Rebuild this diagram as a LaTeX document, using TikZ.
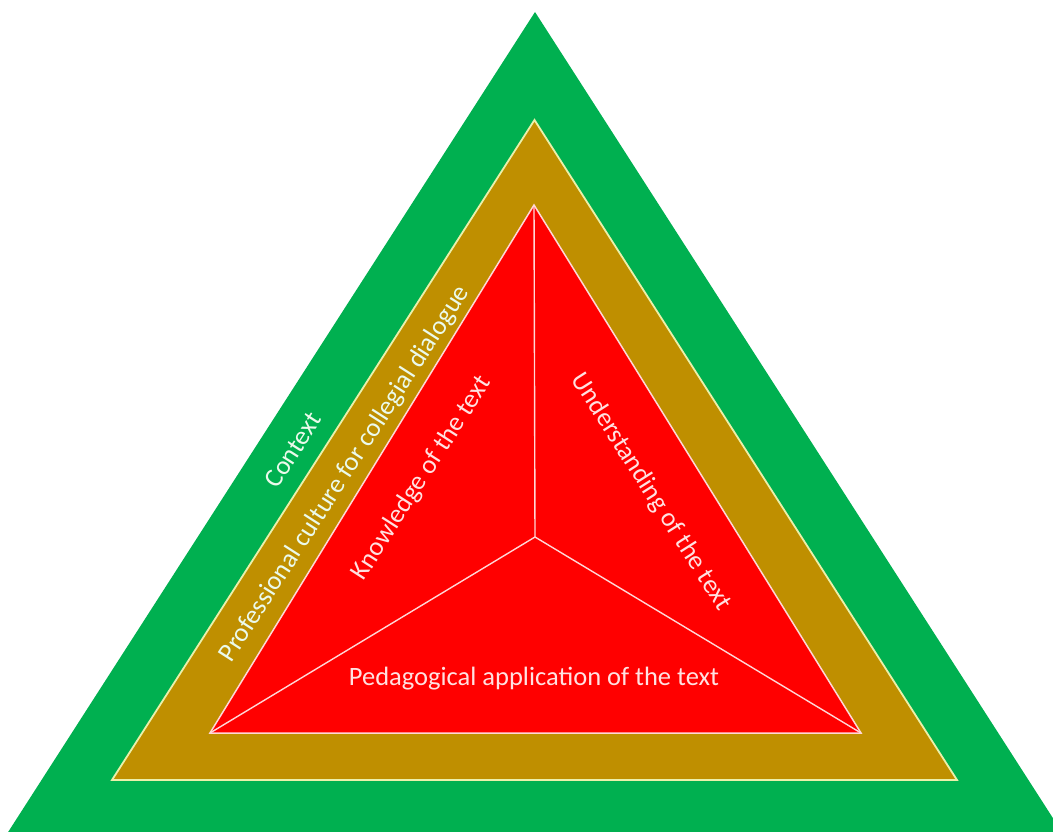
\documentclass[tikz,border=0pt]{standalone}
\usepackage{fontspec}
\setmainfont{Carlito}
\definecolor{ctxgreen}{RGB}{0,176,80}
\definecolor{profgold}{RGB}{191,143,0}
\definecolor{coreRed}{RGB}{255,0,0}
\definecolor{goldline}{RGB}{235,240,170}
\definecolor{redline}{RGB}{255,215,215}
\begin{document}
\begin{tikzpicture}[x=1pt,y=-1pt,
  lbl/.style={text={rgb,255:red,235;green,250;blue,235},font=\fontsize{26.5}{30}\selectfont,inner sep=0pt},
  redlbl/.style={text={rgb,255:red,255;green,225;blue,225},font=\fontsize{26.5}{30}\selectfont,inner sep=0pt},
  spoke/.style={draw=redline,line width=1.4pt}]
\useasboundingbox (0,0) rectangle (1053,832);
\clip (0,0) rectangle (1053,832);
\fill[white] (0,0) rectangle (1053,832);
% outer green
\coordinate (gA) at (535,12);
\coordinate (gL) at (3,840);
\coordinate (gR) at (1067,840);
\fill[ctxgreen] (gA) -- (gL) -- (gR) -- cycle;
% gold
\coordinate (oA) at (534.5,120);
\coordinate (oL) at (112,780);
\coordinate (oR) at (957,780);
\filldraw[fill=profgold,draw=goldline,line width=1.8pt,line join=miter] (oA) -- (oL) -- (oR) -- cycle;
% red
\coordinate (rA) at (534,205);
\coordinate (rL) at (210,733);
\coordinate (rR) at (861,733);
\coordinate (rC) at (535,537);
\filldraw[fill=coreRed,draw=redline,line width=1.5pt,line join=miter] (rA) -- (rL) -- (rR) -- cycle;
\draw[spoke] (rC) -- (rA);
\draw[spoke] (rC) -- (rL);
\draw[spoke] (rC) -- (rR);
% labels
\node[lbl,rotate=57.3] (ctx) at (293,450) {Context};
\node[lbl,rotate=57.3] (prof) at (345,474) {Professional culture for collegial dialogue};
\node[redlbl,rotate=57.3] (know) at (422,478) {Knowledge of the text};
\node[redlbl,rotate=-57.5] (under) at (651,492) {Understanding of the text};
\node[redlbl] (ped) at (534,679) {Pedagogical application of the text};
\end{tikzpicture}
\end{document}
